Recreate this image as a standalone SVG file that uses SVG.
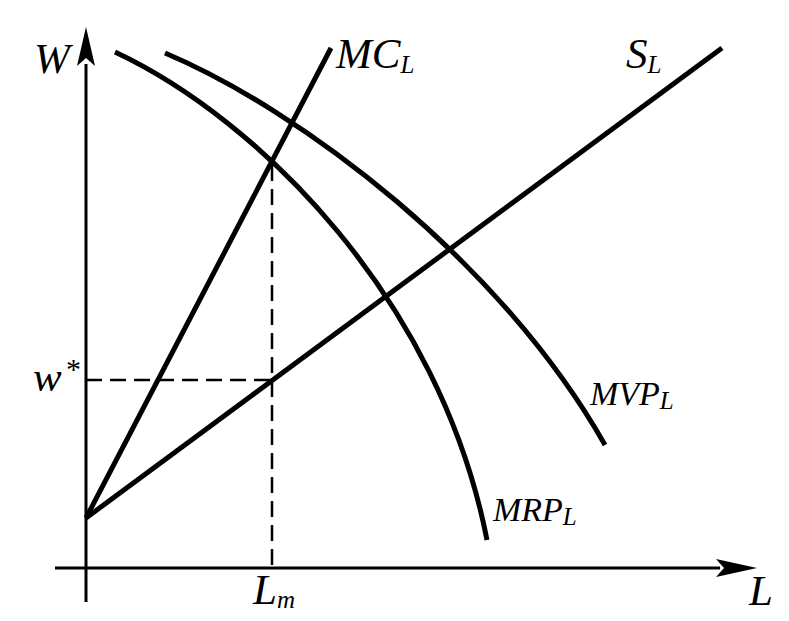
<svg xmlns="http://www.w3.org/2000/svg" width="789" height="621" viewBox="0 0 789 621">
<style>
.axis{stroke:#000;stroke-width:3;fill:none}
.curve{stroke:#000;stroke-width:5;fill:none}
.dash{stroke:#000;stroke-width:2.5;fill:none;stroke-dasharray:16 8}
text{font-family:"Liberation Serif","Times New Roman",serif;font-style:italic;fill:#000}
.big{font-size:43px}
.mid{font-size:34px}
.sub{font-size:25px}
.ast{font-size:30px;font-style:normal}
</style>
<rect width="789" height="621" fill="#fff"/>
<g id="axes">
<line class="axis" x1="86" y1="602" x2="86" y2="64"/>
<path d="M86,27 L95,66 L86,58 L77,66 Z" fill="#000"/>
<line class="axis" x1="55" y1="568" x2="720" y2="568"/>
<path d="M757,568 L716,577 L724,568 L716,559 Z" fill="#000"/>
</g>
<g id="connectors">
<line class="dash" x1="86" y1="380" x2="272" y2="380"/>
<line class="dash" x1="272" y1="165" x2="272" y2="568"/>
</g>
<g id="MC">
<line class="curve" x1="86" y1="518" x2="331" y2="48"/>
</g>
<g id="SL">
<line class="curve" x1="86" y1="518" x2="722" y2="48"/>
</g>
<g id="MRP">
<path class="curve" d="M115,52 C260,120 440,300 487,540"/>
</g>
<g id="MVP">
<path class="curve" d="M165,53 C300,110 500,260 605,445"/>
</g>
<g id="labels">
<text class="big" x="34" y="73">W</text>
<text class="big" x="336" y="68">MC<tspan class="sub" dy="5">L</tspan></text>
<text class="big" x="626" y="68">S<tspan class="sub" dy="5">L</tspan></text>
<text class="big" x="33" y="391">w</text>
<text class="ast" x="66" y="379">*</text>
<text class="mid" x="590" y="405">MVP<tspan class="sub" dy="4">L</tspan></text>
<text class="mid" x="493" y="521">MRP<tspan class="sub" dy="4">L</tspan></text>
<text class="big" x="253" y="604">L<tspan class="sub" dy="4">m</tspan></text>
<text class="big" x="749" y="605">L</text>
</g>
</svg>
